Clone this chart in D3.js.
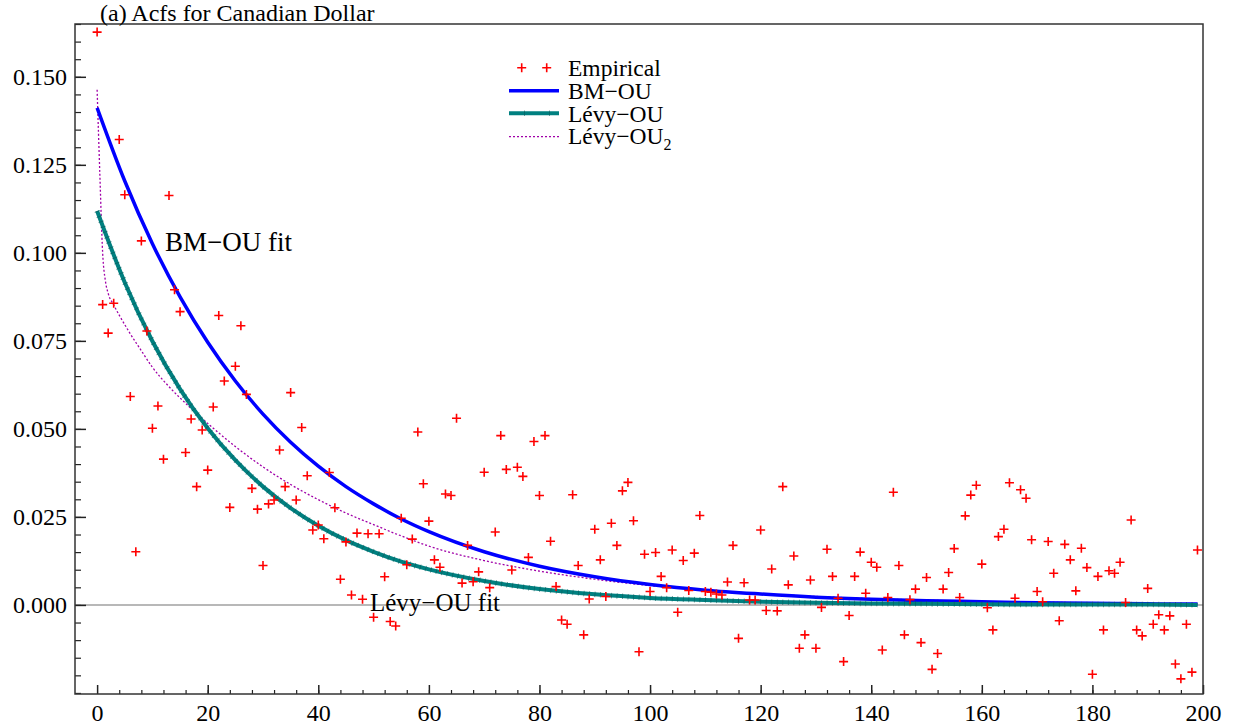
<!DOCTYPE html>
<html>
<head>
<meta charset="utf-8">
<script src="https://cdn.jsdelivr.net/npm/d3@7"></script>
<style>
  body { margin: 0; background: #fff; }
  text { font-family: "Liberation Serif", "Times New Roman", serif; fill: #000; }
</style>
</head>
<body>
<svg id="chart" width="1235" height="728"></svg>
<script>
// Sample autocorrelations of the Canadian Dollar series, lags 0..199
const empirical = [
  0.1627, 0.0853, 0.0772, 0.0857, 0.1322, 0.1165, 0.0592, 0.0151, 0.1034, 0.0778,
  0.0502, 0.0565, 0.0414, 0.1163, 0.0895, 0.0833, 0.0433, 0.0528, 0.0336, 0.0497,
  0.0383, 0.0562, 0.0822, 0.0636, 0.0277, 0.0678, 0.0793, 0.0598, 0.0331, 0.0272,
  0.0112, 0.0287, 0.0298, 0.0440, 0.0336, 0.0603, 0.0298, 0.0504, 0.0367, 0.0213,
  0.0227, 0.0188, 0.0376, 0.0276, 0.0073, 0.0179, 0.0028, 0.0204, 0.0016, 0.0202,
  -0.0035, 0.0202, 0.0080, -0.0047, -0.0060, 0.0246, 0.0114, 0.0187, 0.0491, 0.0344,
  0.0238, 0.0128, 0.0107, 0.0315, 0.0311, 0.0530, 0.0062, 0.0169, 0.0066, 0.0094,
  0.0377, 0.0049, 0.0207, 0.0481, 0.0385, 0.0099, 0.0391, 0.0365, 0.0135, 0.0464,
  0.0311, 0.0481, 0.0181, 0.0052, -0.0043, -0.0055, 0.0313, 0.0112, -0.0085, 0.0017,
  0.0215, 0.0128, 0.0024, 0.0232, 0.0169, 0.0324, 0.0348, 0.0239, -0.0133, 0.0144,
  0.0038, 0.0149, 0.0081, 0.0049, 0.0156, -0.0021, 0.0126, 0.0041, 0.0147, 0.0254,
  0.0038, 0.0036, 0.0031, 0.0028, 0.0065, 0.0169, -0.0095, 0.0063, 0.0014, 0.0014,
  0.0213, -0.0016, 0.0102, -0.0017, 0.0336, 0.0057, 0.0139, -0.0123, -0.0085, 0.0071,
  -0.0123, -0.0007, 0.0158, 0.0081, 0.0019, -0.0161, -0.0030, 0.0081, 0.0150, 0.0033,
  0.0121, 0.0107, -0.0128, 0.0021, 0.0320, 0.0112, -0.0085, 0.0015, 0.0045, -0.0107,
  0.0078, -0.0183, -0.0138, 0.0045, 0.0092, 0.0160, 0.0021, 0.0253, 0.0312, 0.0340,
  0.0116, -0.0008, -0.0071, 0.0194, 0.0215, 0.0347, 0.0019, 0.0327, 0.0303, 0.0185,
  0.0038, 0.0009, 0.0180, 0.0090, -0.0045, 0.0172, 0.0128, 0.0040, 0.0161, 0.0106,
  -0.0197, 0.0081, -0.0071, 0.0097, 0.0090, 0.0121, 0.0007, 0.0241, -0.0071, -0.0088,
  0.0047, -0.0055, -0.0028, -0.0071, -0.0031, -0.0168, -0.0210, -0.0055, -0.0191, 0.0156
];
const empiricalLags = d3.range(empirical.length);

// Fitted model autocorrelations
const fitLags = [0, 5, 10, 15, 20, 25, 30, 35, 40, 45, 50, 55, 60, 70, 80, 90, 100,
                 110, 120, 130, 140, 150, 160, 170, 180, 190, 199];
const bmOU = [0.1412, 0.1204, 0.1026, 0.0875, 0.0746, 0.0636, 0.0542, 0.0462, 0.0394,
              0.0336, 0.0287, 0.0244, 0.0208, 0.0151, 0.0110, 0.0080, 0.0058, 0.0042,
              0.0031, 0.0022, 0.0016, 0.0012, 0.0009, 0.0006, 0.00045, 0.0003, 0.00025];
const levyOU = [0.1119, 0.0916, 0.0749, 0.0613, 0.0502, 0.0411, 0.0336, 0.0275, 0.0225,
                0.0184, 0.0151, 0.0123, 0.0101, 0.0068, 0.0045, 0.0030, 0.0020, 0.0014,
                0.0009, 0.0006, 0.0004, 0.0003, 0.0002, 0.0001, 0.0001, 0.0001, 0.0000];
const levy2Lags = [0, 0.5, 1, 1.5, 2, 3, 4, 5, 6, 8, 10, 13, 17, 21, 25, 30, 35, 40, 45,
                   50, 55, 60, 70, 80, 90, 100, 110, 120, 140, 160, 180, 199];
const levyOU2 = [0.1463, 0.1220, 0.1000, 0.0920, 0.0885, 0.0852, 0.0823, 0.0796, 0.0770,
                 0.0722, 0.0675, 0.0620, 0.0558, 0.0502, 0.0450, 0.0392, 0.0342, 0.0299,
                 0.0261, 0.0228, 0.0196, 0.0167, 0.0126, 0.0096, 0.0073, 0.0055, 0.0042,
                 0.0032, 0.0018, 0.0010, 0.0006, 0.0003];

const xTicks = d3.range(0, 201, 20);
const yTicks = d3.range(0, 0.1501, 0.025);

const svg = d3.select("#chart");
const plotL = 75, plotR = 1203, plotT = 24, plotB = 694;

const x = d3.scaleLinear().domain([-4, 200]).range([plotL, plotR]);
const y = d3.scaleLinear().domain([-0.0253, 0.165]).range([plotB, plotT]);

const col = { emp: "#ff0000", bm: "#0000ff", levy: "#008080", levyTick: "#0b5a5a", levy2: "#a000a8" };
const serif = '"Liberation Serif", "Times New Roman", serif';

// zero line
svg.append("line")
  .attr("x1", plotL).attr("x2", plotR)
  .attr("y1", y(0)).attr("y2", y(0))
  .attr("stroke", "#a0a0a0").attr("stroke-width", 1.5);

// axes with inward ticks
const yMinor = d3.range(-0.025, 0.1651, 0.005).filter(v => v > -0.0253);
svg.append("g").attr("transform", `translate(${plotL},0)`)
  .call(d3.axisLeft(y).tickValues(yMinor).tickSize(-6).tickFormat(""))
  .call(g => g.select(".domain").remove())
  .selectAll("line").attr("stroke", "#222").attr("stroke-width", 1.2);
svg.append("g").attr("transform", `translate(${plotL},0)`)
  .call(d3.axisLeft(y).tickValues(yTicks).tickSize(-11).tickPadding(8).tickFormat(d3.format(".3f")))
  .call(g => g.select(".domain").remove())
  .call(g => g.selectAll("line").attr("stroke", "#222").attr("stroke-width", 1.5))
  .call(g => g.selectAll("text").attr("font-size", 24).style("font-family", serif).attr("fill", "#000"));

const xMinor = d3.range(4, 200, 4);
svg.append("g").attr("transform", `translate(0,${plotB})`)
  .call(d3.axisBottom(x).tickValues(xMinor).tickSize(-4).tickFormat(""))
  .call(g => g.select(".domain").remove())
  .selectAll("line").attr("stroke", "#222").attr("stroke-width", 1.2);
svg.append("g").attr("transform", `translate(0,${plotB})`)
  .call(d3.axisBottom(x).tickValues(xTicks).tickSize(-9).tickPadding(10).tickFormat(d3.format("d")))
  .call(g => g.select(".domain").remove())
  .call(g => g.selectAll("line").attr("stroke", "#222").attr("stroke-width", 1.5))
  .call(g => g.selectAll("text").attr("font-size", 24).style("font-family", serif).attr("fill", "#000"));

// frame
svg.append("rect")
  .attr("x", plotL).attr("y", plotT)
  .attr("width", plotR - plotL).attr("height", plotB - plotT)
  .attr("fill", "none").attr("stroke", "#333").attr("stroke-width", 1.5);

// fitted curves
const line = (xs) => d3.line().x((d, i) => x(xs[i])).y(d => y(d)).curve(d3.curveMonotoneX);

svg.append("path").datum(levyOU2)
  .attr("d", line(levy2Lags))
  .attr("fill", "none").attr("stroke", col.levy2)
  .attr("stroke-width", 1.3).attr("stroke-dasharray", "2,2");

svg.append("path").datum(bmOU)
  .attr("d", line(fitLags))
  .attr("fill", "none").attr("stroke", col.bm).attr("stroke-width", 3.5);

svg.append("path").datum(levyOU)
  .attr("d", line(fitLags))
  .attr("fill", "none").attr("stroke", col.levy).attr("stroke-width", 4);
svg.append("path").datum(levyOU)
  .attr("d", line(fitLags))
  .attr("fill", "none").attr("stroke", col.levyTick)
  .attr("stroke-width", 5.5).attr("stroke-dasharray", "0.8,4.73").attr("opacity", 0.7);

// empirical points
const plus = "M-4.5,0H4.5M0,-4.5V4.5";
svg.append("g").selectAll("path")
  .data(empirical)
  .join("path")
  .attr("d", plus)
  .attr("transform", (d, i) => `translate(${x(empiricalLags[i])},${y(d)})`)
  .attr("stroke", col.emp).attr("stroke-width", 1.6).attr("fill", "none");

// title
svg.append("text").attr("x", 100).attr("y", 21)
  .attr("font-size", 24).text("(a) Acfs for Canadian Dollar");

// annotations
svg.append("text").attr("x", 165).attr("y", 251)
  .attr("font-size", 27).text("BM\u2212OU fit");
svg.append("text").attr("x", 370).attr("y", 611)
  .attr("font-size", 25).text("L\u00e9vy\u2212OU fit");

// legend
const lg = svg.append("g");
const lx1 = 509, lx2 = 559, tx = 568, fs = 23.5;
[521.7, 546.7].forEach(px => {
  lg.append("path").attr("d", plus).attr("transform", `translate(${px},67.7)`)
    .attr("stroke", col.emp).attr("stroke-width", 1.6);
});
lg.append("text").attr("x", tx).attr("y", 76).attr("font-size", fs).text("Empirical");

lg.append("line").attr("x1", lx1).attr("x2", lx2).attr("y1", 90.7).attr("y2", 90.7)
  .attr("stroke", col.bm).attr("stroke-width", 3.5);
lg.append("text").attr("x", tx).attr("y", 99).attr("font-size", fs).text("BM\u2212OU");

lg.append("line").attr("x1", lx1).attr("x2", lx2).attr("y1", 113.3).attr("y2", 113.3)
  .attr("stroke", col.levy).attr("stroke-width", 4);
lg.append("line").attr("x1", lx1).attr("x2", lx2).attr("y1", 113.3).attr("y2", 113.3)
  .attr("stroke", col.levyTick).attr("stroke-width", 5.5)
  .attr("stroke-dasharray", "0.8,24.2").attr("stroke-dashoffset", -15).attr("opacity", 0.7);
lg.append("text").attr("x", tx).attr("y", 121.5).attr("font-size", fs).text("L\u00e9vy\u2212OU");

lg.append("line").attr("x1", lx1).attr("x2", lx2).attr("y1", 136.7).attr("y2", 136.7)
  .attr("stroke", col.levy2).attr("stroke-width", 1.3).attr("stroke-dasharray", "2,2");
const t4 = lg.append("text").attr("x", tx).attr("y", 144).attr("font-size", fs);
t4.append("tspan").text("L\u00e9vy\u2212OU");
t4.append("tspan").attr("font-size", 16).attr("dy", 6).text("2");
</script>
</body>
</html>
